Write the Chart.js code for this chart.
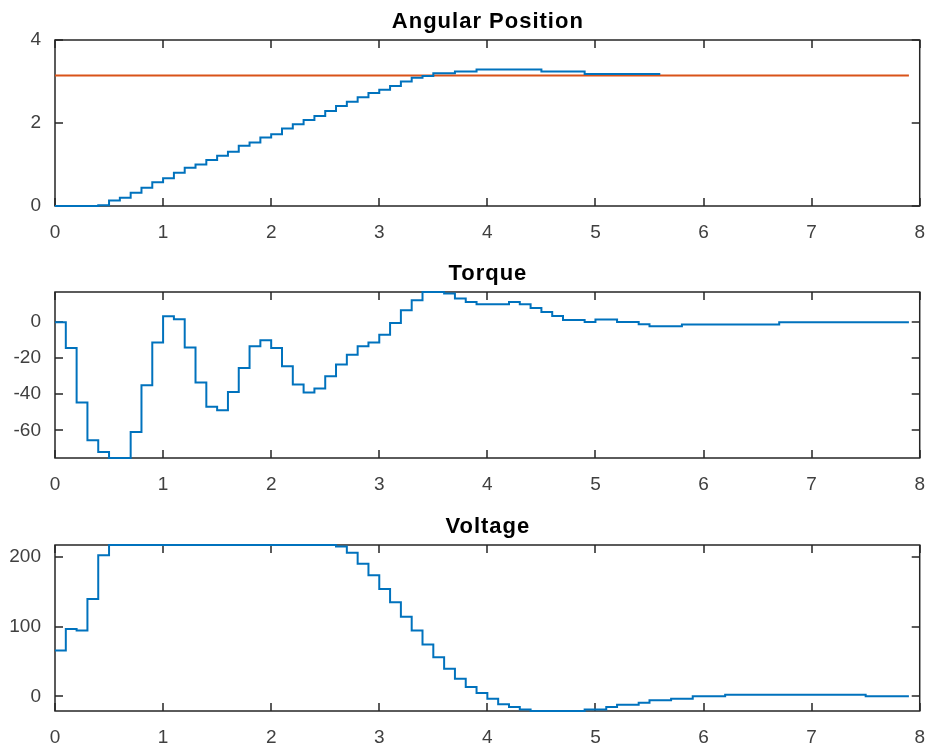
<!DOCTYPE html>
<html><head><meta charset="utf-8">
<script src="https://cdn.jsdelivr.net/npm/chart.js@4.4.0/dist/chart.umd.min.js"></script>
<style>
html,body{margin:0;padding:0;background:#fff;}
#wrap{position:relative;width:930px;height:745px;overflow:hidden;}
canvas{position:absolute;left:0;}
</style></head><body>
<div id="wrap">
<canvas id="c1" width="940" height="248" style="top:0px"></canvas>
<canvas id="c2" width="940" height="252" style="top:248px"></canvas>
<canvas id="c3" width="940" height="245" style="top:500px"></canvas>
</div>
<script>
// ---- data ----
const time = [0,0.1,0.2,0.3,0.4,0.5,0.6,0.7,0.8,0.9,
  1,1.1,1.2,1.3,1.4,1.5,1.6,1.7,1.8,1.9,
  2,2.1,2.2,2.3,2.4,2.5,2.6,2.7,2.8,2.9,
  3,3.1,3.2,3.3,3.4,3.5,3.6,3.7,3.8,3.9,
  4,4.1,4.2,4.3,4.4,4.5,4.6,4.7,4.8,4.9,
  5,5.1,5.2,5.3,5.4,5.5,5.6,5.7,5.8,5.9,
  6,6.1,6.2,6.3,6.4,6.5,6.6,6.7,6.8,6.9,
  7,7.1,7.2,7.3,7.4,7.5,7.6,7.7,7.8,7.9];

const angleValues = [0,0,0,0,0.02,0.13,0.20,0.32,0.44,0.57,
  0.67,0.80,0.92,1.00,1.11,1.21,1.31,1.45,1.53,1.65,
  1.73,1.87,1.97,2.07,2.17,2.29,2.41,2.51,2.62,2.72,
  2.80,2.89,3.00,3.09,3.13,3.20,3.20,3.24,3.24,3.29,
  3.29,3.29,3.29,3.29,3.29,3.24,3.24,3.24,3.24,3.18,
  3.18,3.18,3.18,3.18,3.18,3.18,3.18];

const referenceTime = [0, 7.9];
const referenceValues = [3.1416, 3.1416];

const torqueValues = [0,-14.3,-44.6,-65.6,-72,-75.4,-75.4,-61,-35,-11.3,
  3.3,1.7,-14,-33.5,-47,-48.9,-38.7,-25.4,-13.3,-10,
  -14.3,-24.4,-34.6,-39,-36.8,-30,-23.5,-18,-13.3,-11.3,
  -6.9,-0.4,6.7,12.2,16.8,16.8,15.9,13.2,11.3,10,
  10,10,11.3,10,7.9,5.7,3.5,1.3,1.3,0.2,
  1.5,1.5,0.2,0.2,-1.1,-2.2,-2.2,-2.2,-1.3,-1.3,
  -1.3,-1.3,-1.3,-1.3,-1.3,-1.3,-1.3,0,0,0,
  0,0,0,0,0,0,0,0,0,0];

const voltageValues = [65.7,96.7,94.3,139.5,202.4,217,217,217,217,217,
  217,217,217,217,217,217,217,217,217,217,
  217,217,217,217,217,217,215,206,190,173.8,
  153.8,134.8,114.3,94.3,74.3,56.2,39.5,25.2,13.3,4.8,
  -3.3,-11.4,-15.2,-19,-21,-21,-21,-21,-21,-19,
  -19,-15.2,-11.9,-11.9,-9,-5.7,-5.7,-3.3,-3.3,0,
  0,0,2.4,2.4,2.4,2.4,2.4,2.4,2.4,2.4,
  2.4,2.4,2.4,2.4,2.4,0,0,0,0,0];

const xTicks = [0,1,2,3,4,5,6,7,8];
const angleTicks = [0,2,4];
const torqueTicks = [-60,-40,-20,0];
const voltageTicks = [0,100,200];
const titles = ['Angular Position','Torque','Voltage'];

// ---- styling ----
const BLUE = '#0072BD', ORANGE = '#D95319', AX = '#262626', LABEL = '#404040';
const FONT = "'Liberation Sans', Arial, Helvetica, sans-serif";

const pts = (xs, ys) => ys.map((v, i) => ({x: xs[i], y: v}));

const matlabAxes = {
  id: 'matlabAxes',
  beforeDatasetsDraw(chart, args, opts) {
    const {ctx, chartArea: a, scales: {x, y}} = chart;
    ctx.save();
    ctx.strokeStyle = AX; ctx.lineWidth = 1.5;
    ctx.beginPath();
    x.ticks.forEach(t => {
      const px = Math.round(x.getPixelForValue(t.value));
      ctx.moveTo(px, a.bottom); ctx.lineTo(px, a.bottom - 8);
      ctx.moveTo(px, a.top); ctx.lineTo(px, a.top + 8);
    });
    y.ticks.forEach(t => {
      const py = Math.round(y.getPixelForValue(t.value));
      ctx.moveTo(a.left, py); ctx.lineTo(a.left + 8, py);
      ctx.moveTo(a.right, py); ctx.lineTo(a.right - 8, py);
    });
    ctx.stroke();
    ctx.strokeRect(a.left, a.top, a.right - a.left, a.bottom - a.top);
    ctx.restore();
  },
  afterDraw(chart, args, opts) {
    const {ctx, chartArea: a} = chart;
    ctx.save();
    ctx.fillStyle = '#000';
    ctx.font = 'bold 22px ' + FONT;
    ctx.letterSpacing = '1px';
    ctx.textAlign = 'center';
    ctx.textBaseline = 'alphabetic';
    ctx.fillText(opts.title, (a.left + a.right) / 2 + 0.5, a.top - 12);
    ctx.restore();
  }
};

function makeChart(id, datasets, yMin, yMax, yTicks, title, topPad, xAxisH) {
  return new Chart(document.getElementById(id), {
    type: 'line',
    data: {datasets},
    options: {
      responsive: false,
      animation: false,
      events: [],
      layout: {autoPadding: false, padding: {top: topPad, right: 0, left: 0, bottom: 0}},
      plugins: {legend: {display: false}, tooltip: {enabled: false}, matlabAxes: {title}},
      scales: {
        x: {
          type: 'linear', min: 0, max: 8,
          afterBuildTicks: s => { s.ticks = xTicks.map(v => ({value: v})); },
          afterFit: s => { s.height = xAxisH; },
          grid: {display: false, drawTicks: false},
          border: {display: false},
          ticks: {color: LABEL, font: {family: FONT, size: 19}, padding: 15, maxRotation: 0, autoSkip: false,
                  callback: v => String(v)}
        },
        y: {
          type: 'linear', min: yMin, max: yMax,
          afterBuildTicks: s => { s.ticks = yTicks.map(v => ({value: v})); },
          afterFit: s => { s.width = 55; },
          grid: {display: false, drawTicks: false},
          border: {display: false},
          ticks: {color: LABEL, font: {family: FONT, size: 19}, padding: 14, autoSkip: false,
                  callback: v => String(v)}
        }
      }
    },
    plugins: [matlabAxes]
  });
}

const lineDs = (data, color) => ({
  data, borderColor: color, borderWidth: 2, pointRadius: 0, stepped: true,
  fill: false, clip: 6, tension: 0
});

makeChart('c1', [
  lineDs(pts(time, angleValues), BLUE),
  lineDs(pts(referenceTime, referenceValues), ORANGE)
], 0, 4, angleTicks, titles[0], 40, 42);

makeChart('c2', [lineDs(pts(time, torqueValues), BLUE)], -75.4, 16.8, torqueTicks, titles[1], 44, 42);

makeChart('c3', [lineDs(pts(time, voltageValues), BLUE)], -21, 217, voltageTicks, titles[2], 45, 34);
</script>
</body></html>
